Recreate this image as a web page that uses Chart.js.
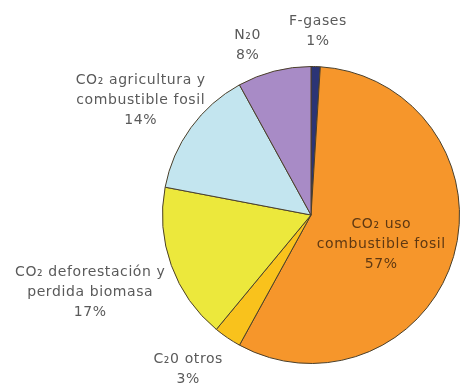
<!DOCTYPE html>
<html>
<head>
<meta charset="utf-8">
<script src="https://cdn.jsdelivr.net/npm/chart.js@4/dist/chart.umd.min.js"></script>
<style>
  html, body { margin: 0; padding: 0; background: #fff; }
</style>
</head>
<body>
<canvas id="gasesPie" width="460" height="387"></canvas>
<script>
// slices go clockwise from 12 o'clock
const categories = ['F-gases', 'CO₂ uso combustible fosil', 'C₂0 otros',
                    'CO₂ deforestación y perdida biomasa', 'CO₂ agricultura y combustible fosil', 'N₂0'];
const shares = [1, 57, 3, 17, 14, 8];
const labelLines = [
  ['F-gases'],
  ['CO₂ uso', 'combustible fosil'],
  ['C₂0 otros'],
  ['CO₂ deforestación y', 'perdida biomasa'],
  ['CO₂ agricultura y', 'combustible fosil'],
  ['N₂0']
];

const sliceColors = ['#2b3475', '#f6962b', '#f9c21c', '#ece83c', '#c3e5ef', '#a88bc6'];
// label block centres, relative to the pie centre (px for a 150px radius)
const labelOffsets = [[7, -185], [71, 30], [-124, 156], [-223, 78], [-172, -116], [-64, -171]];

const sliceLabels = {
  id: 'sliceLabels',
  afterDatasetsDraw(chart) {
    const ctx = chart.ctx;
    const arcs = chart.getDatasetMeta(0).data;
    ctx.save();
    ctx.font = '14px "DejaVu Sans", sans-serif';
    ctx.letterSpacing = '0.6px';
    ctx.textAlign = 'center';
    ctx.textBaseline = 'middle';
    const lineH = 20;
    arcs.forEach((arc, i) => {
      const k = arc.outerRadius / 150;
      const cx = arc.x + labelOffsets[i][0] * k;
      const cy = arc.y + labelOffsets[i][1] * k;
      const lines = labelLines[i].concat([shares[i] + '%']);
      const top = cy - (lines.length - 1) * lineH / 2;
      ctx.fillStyle = i === 1 ? '#5e3812' : '#5a5a5a';
      lines.forEach((txt, j) => ctx.fillText(txt, cx, top + j * lineH));
    });
    ctx.restore();
  }
};

new Chart(document.getElementById('gasesPie'), {
  type: 'pie',
  data: {
    labels: categories,
    datasets: [{
      data: shares,
      backgroundColor: sliceColors,
      borderColor: '#4a3f2a',
      borderWidth: 1
    }]
  },
  options: {
    responsive: false,
    animation: false,
    layout: { padding: { left: 162, right: 0, top: 66, bottom: 23 } },
    plugins: {
      legend: { display: false },
      tooltip: { enabled: false }
    }
  },
  plugins: [sliceLabels]
});
</script>
</body>
</html>
